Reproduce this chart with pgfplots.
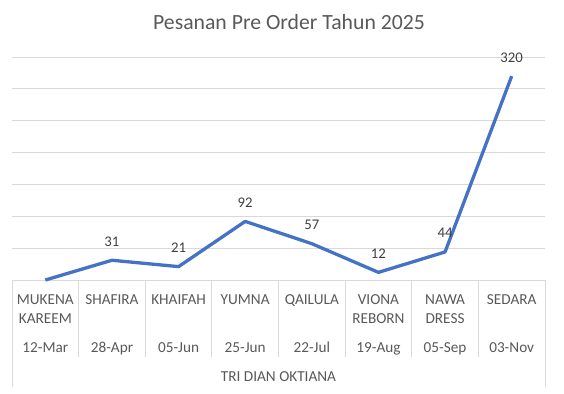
\documentclass[border=0pt]{standalone}
\usepackage{fontspec}
\setmainfont{Carlito}
\usepackage{pgfplots}
\pgfplotsset{compat=1.18}
\definecolor{txt}{HTML}{595959}
\definecolor{lbl}{HTML}{404040}
\definecolor{grd}{HTML}{D9D9D9}
\definecolor{ln}{HTML}{4472C4}
\begin{document}
\begin{tikzpicture}[x=1bp,y=1bp]
\useasboundingbox (-12,-113) rectangle (552,280);
\begin{axis}[at={(0,0)}, anchor=south west, scale only axis,
  width=533bp, height=223bp,
  xmin=-0.5, xmax=7.5, ymin=0, ymax=350,
  ytick={0,50,...,350}, xtick=\empty, yticklabels={},
  ymajorgrids, grid style={grd, line width=0.8bp},
  axis line style={draw=none}, major tick length=0, clip=false,
  nodes near coords, point meta=explicit symbolic,
  every node near coord/.append style={anchor=base, yshift=14bp, font=\fontsize{14.8}{17}\selectfont, text=lbl, inner sep=0pt}]
\addplot[ln, line width=3.3bp, line join=round, mark=none] coordinates {
(0,0) []
(1,31) [31]
(2,21) [21]
(3,92) [92]
(4,57) [57]
(5,12) [12]
(6,44) [44]
(7,320) [320]
};
\end{axis}
% title
\node[text=txt, font=\fontsize{21.8}{24}\selectfont, anchor=center] at (277,258) {Pesanan Pre Order Tahun 2025};
% separators
\foreach \xx in {66.625,133.25,199.875,266.5,333.125,399.75,466.375} {
  \draw[grd, line width=0.8bp] (\xx,0) -- (\xx,-77);
}
\draw[grd, line width=0.8bp] (0,0) -- (0,-106.7);
\draw[grd, line width=0.8bp] (533,0) -- (533,-106.7);
% category labels
\begin{scope}[every node/.style={text=txt, font=\fontsize{15.3}{17}\selectfont, anchor=base, inner sep=0pt}]
\node at (33.3125,-24.8) {MUKENA};
\node at (33.3125,-43.5) {KAREEM};
\node at (99.9375,-24.8) {SHAFIRA};
\node at (166.5625,-24.8) {KHAIFAH};
\node at (233.1875,-24.8) {YUMNA};
\node at (299.8125,-24.8) {QAILULA};
\node at (366.4375,-24.8) {VIONA};
\node at (366.4375,-43.5) {REBORN};
\node at (433.0625,-24.8) {NAWA};
\node at (433.0625,-43.5) {DRESS};
\node at (499.6875,-24.8) {SEDARA};
\node at (33.3125,-72.1) {12-Mar};
\node at (99.9375,-72.1) {28-Apr};
\node at (166.5625,-72.1) {05-Jun};
\node at (233.1875,-72.1) {25-Jun};
\node at (299.8125,-72.1) {22-Jul};
\node at (366.4375,-72.1) {19-Aug};
\node at (433.0625,-72.1) {05-Sep};
\node at (499.6875,-72.1) {03-Nov};
\node at (266.5,-101.5) {TRI DIAN OKTIANA};
\end{scope}
\end{tikzpicture}
\end{document}
